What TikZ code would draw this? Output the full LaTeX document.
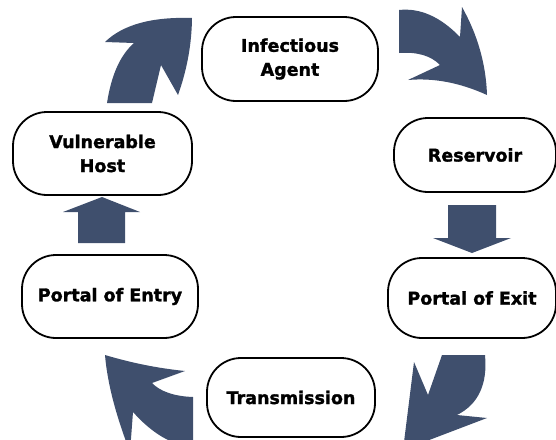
\documentclass[tikz,border=0pt]{standalone}
\usepackage{fontspec}
\setmainfont{DejaVu Sans}
\newfontfamily\stagefont{DejaVu Sans Bold}[FakeBold=1.6]
\definecolor{arrowblue}{HTML}{3F4F6D}
\begin{document}
\begin{tikzpicture}[x=1pt,y=-1pt,
  stage/.style={draw=black, line width=1.8pt, fill=white, rounded corners=34pt,
    align=center, inner sep=0pt, font=\stagefont\fontsize{17.5}{24}\selectfont},
  blockarrow/.style={fill=arrowblue, draw=none}]
\useasboundingbox (0,0) rectangle (556,439);
\clip (0,0) rectangle (556,439);
% stages
\node[stage, minimum width=176pt, minimum height=84pt] (agent) at (290,59) {Infectious\\Agent};
\node[stage, minimum width=162pt, minimum height=74pt] (reservoir) at (475,155) {Reservoir};
\node[stage, minimum width=168pt, minimum height=80pt] (exit) at (472,298) {Portal of Exit};
\node[stage, minimum width=168pt, minimum height=79pt] (trans) at (291,397.5) {Transmission};
\node[stage, minimum width=176pt, minimum height=83pt] (entry) at (110,296.5) {Portal of Entry};
\node[stage, minimum width=179pt, minimum height=83pt] (host) at (102.5,153.5) {Vulnerable\\Host};
% straight block arrows
\fill[blockarrow] (78,243) -- (78,212) -- (63,212) -- (102,197) -- (140,212) -- (125,212) -- (125,243) -- cycle;
\fill[blockarrow] (448,205) -- (496,205) -- (496,238) -- (511,238) -- (472,253) -- (433,238) -- (448,238) -- cycle;
% top-left curved arrow (host -> agent)
\fill[blockarrow] (107,103) -- (152,103) -- (161,65) -- (178,95)
  .. controls (187.1,69.6) and (191.7,43.9) .. (192,18)
  .. controls (151.7,16.7) and (122.7,24.7) .. (105,42)
  -- (134,43)
  .. controls (120.3,55) and (111.3,75) .. (107,103) -- cycle;
% top-right curved arrow (agent -> reservoir)
\fill[blockarrow] (399,10)
  .. controls (420,7.7) and (440.3,16.7) .. (460,37)
  -- (462,7)
  .. controls (477.7,35) and (486,64.3) .. (487,95)
  .. controls (460,82.7) and (433.7,77.7) .. (408,80)
  -- (440,65)
  .. controls (431,55.7) and (417.3,51.7) .. (399,53) -- cycle;
% bottom-right curved arrow (exit -> transmission)
\fill[blockarrow] (442,355) -- (485,355)
  .. controls (487.7,384.3) and (478.3,404.3) .. (457,415)
  -- (487,418) -- (403,450) -- (414,362) -- (428,395) -- cycle;
% bottom-left curved arrow (transmission -> entry)
\fill[blockarrow] (105,355)
  .. controls (131.7,363) and (158.3,368.3) .. (185,371)
  -- (152,383)
  .. controls (159.7,391) and (173.3,396.3) .. (193,397)
  -- (193,447)
  .. controls (171.7,445.3) and (151.7,433) .. (133,412)
  -- (130,452)
  .. controls (115.7,415) and (107.3,382.7) .. (105,355) -- cycle;
\end{tikzpicture}
\end{document}
